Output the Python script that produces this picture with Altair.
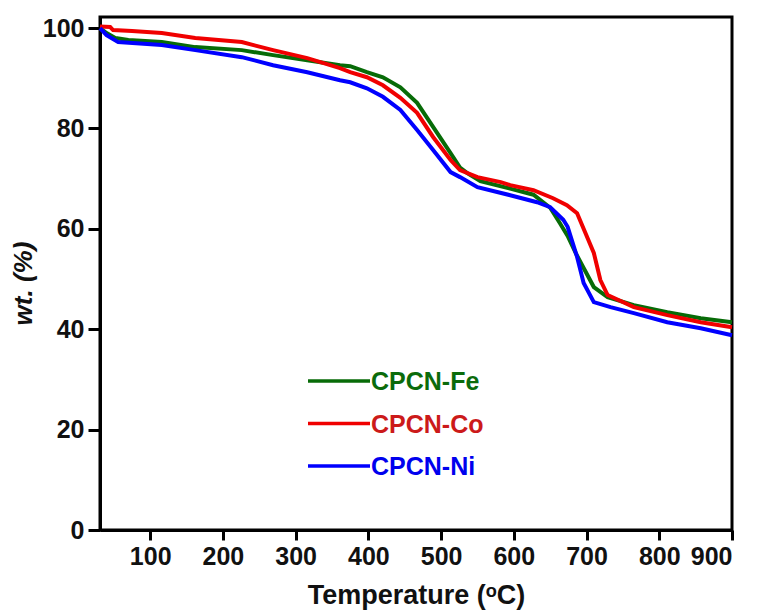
import altair as alt
import pandas as pd

# ---- data ----
series = ["CPCN-Fe", "CPCN-Co", "CPCN-Ni"]
line_colors = ["#076b07", "#f00000", "#0000ff"]
text_colors = ["#0b6b0b", "#cc1a1a", "#0000ee"]

fe_T = [31, 40, 52, 70, 116, 162, 226, 269, 316, 361, 375, 398, 420, 444, 467, 489, 513,
        526, 536, 554, 595, 627, 650, 663, 674, 685, 696, 710, 729, 765, 811, 857, 900]
fe_w = [100, 99.0, 98.0, 97.6, 97.2, 96.2, 95.6, 94.6, 93.6, 92.6, 92.4, 91.2, 90.2, 88.2, 85.1, 80.3, 75.1,
        72.2, 71.1, 69.5, 68.0, 66.8, 64.2, 61.2, 58.6, 55.2, 52.2, 48.4, 46.4, 44.8, 43.4, 42.2, 41.4]

co_T = [31, 45, 49, 75, 116, 162, 226, 269, 316, 361, 375, 398, 420, 444, 467, 489, 513,
        526, 550, 582, 595, 627, 654, 673, 687, 696, 710, 719, 729, 765, 811, 857, 900]
co_w = [100.3, 100.2, 99.6, 99.4, 99.0, 98.0, 97.2, 95.6, 94.0, 92.0, 91.2, 90.2, 88.6, 86.1, 83.1, 78.3, 73.7,
        71.7, 70.3, 69.3, 68.7, 67.7, 66.1, 64.7, 63.1, 60.0, 55.2, 49.8, 46.8, 44.4, 42.8, 41.4, 40.4]

ni_T = [31, 40, 56, 116, 162, 226, 269, 316, 361, 375, 398, 420, 444, 467, 489, 513,
        526, 550, 595, 632, 650, 668, 674, 687, 696, 710, 733, 765, 811, 857, 900]
ni_w = [100, 98.6, 97.2, 96.6, 95.6, 94.2, 92.6, 91.2, 89.6, 89.2, 88.0, 86.3, 83.7, 79.7, 75.7, 71.3,
        70.3, 68.3, 66.7, 65.3, 64.3, 61.8, 60.4, 54.4, 49.2, 45.4, 44.4, 43.2, 41.4, 40.2, 38.8]

x_ticks = [100, 200, 300, 400, 500, 600, 700, 800, 900]
y_ticks = [0, 20, 40, 60, 80, 100]

rows = []
for name, T, W in zip(series, [fe_T, co_T, ni_T], [fe_w, co_w, ni_w]):
    for t, w in zip(T, W):
        rows.append({"series": name, "T": t, "wt": w})
df = pd.DataFrame(rows)

FONT = "Liberation Sans"

lines = alt.Chart(df).mark_line(strokeWidth=4, interpolate="linear").encode(
    x=alt.X("T:Q", scale=alt.Scale(domain=[31, 900], nice=False, zero=False),
            axis=alt.Axis(values=x_ticks, title="Temperature (ᵒC)", tickSize=10, labelPadding=4,
                          titleFontSize=27, titleBaseline="alphabetic", titleY=73)),
    y=alt.Y("wt:Q", scale=alt.Scale(domain=[0, 102.2], nice=False),
            axis=alt.Axis(values=y_ticks, title="wt. (%)", tickSize=12, labelPadding=4,
                          titleFontSize=26, titleFontStyle="italic", titleAngle=-90,
                          titleX=-64, titleY=266)),
    color=alt.Color("series:N", scale=alt.Scale(domain=series, range=line_colors), legend=None),
    detail="series:N",
)

layers = [lines]
for i, (name, lc, tc) in enumerate(zip(series, line_colors, text_colors)):
    ypix = 364 + 42.5 * i
    leg_df = pd.DataFrame({"label": [name]})
    layers.append(
        alt.Chart(leg_df).mark_rule(strokeWidth=3.5, color=lc).encode(
            x=alt.value(208), x2=alt.value(270), y=alt.value(ypix)
        )
    )
    layers.append(
        alt.Chart(leg_df).mark_text(align="left", baseline="middle", font=FONT,
                                    fontWeight="bold", fontSize=25, color=tc).encode(
            x=alt.value(271), y=alt.value(ypix + 1), text="label:N"
        )
    )

chart = alt.layer(*layers).properties(
    width=632, height=513,
    autosize=alt.AutoSizeParams(type="none"),
    padding={"left": 92, "top": 9, "right": 19, "bottom": 83},
).configure_view(
    stroke="black", strokeWidth=3
).configure_axis(
    grid=False, domainColor="black", domainWidth=3, tickColor="black", tickWidth=3,
    labelFont=FONT, labelFontWeight="bold", labelFontSize=25, labelColor="#111111",
    titleFont=FONT, titleFontWeight="bold", titleColor="#111111",
)

chart.save("out.html", embed_options={"renderer": "svg", "actions": False})
